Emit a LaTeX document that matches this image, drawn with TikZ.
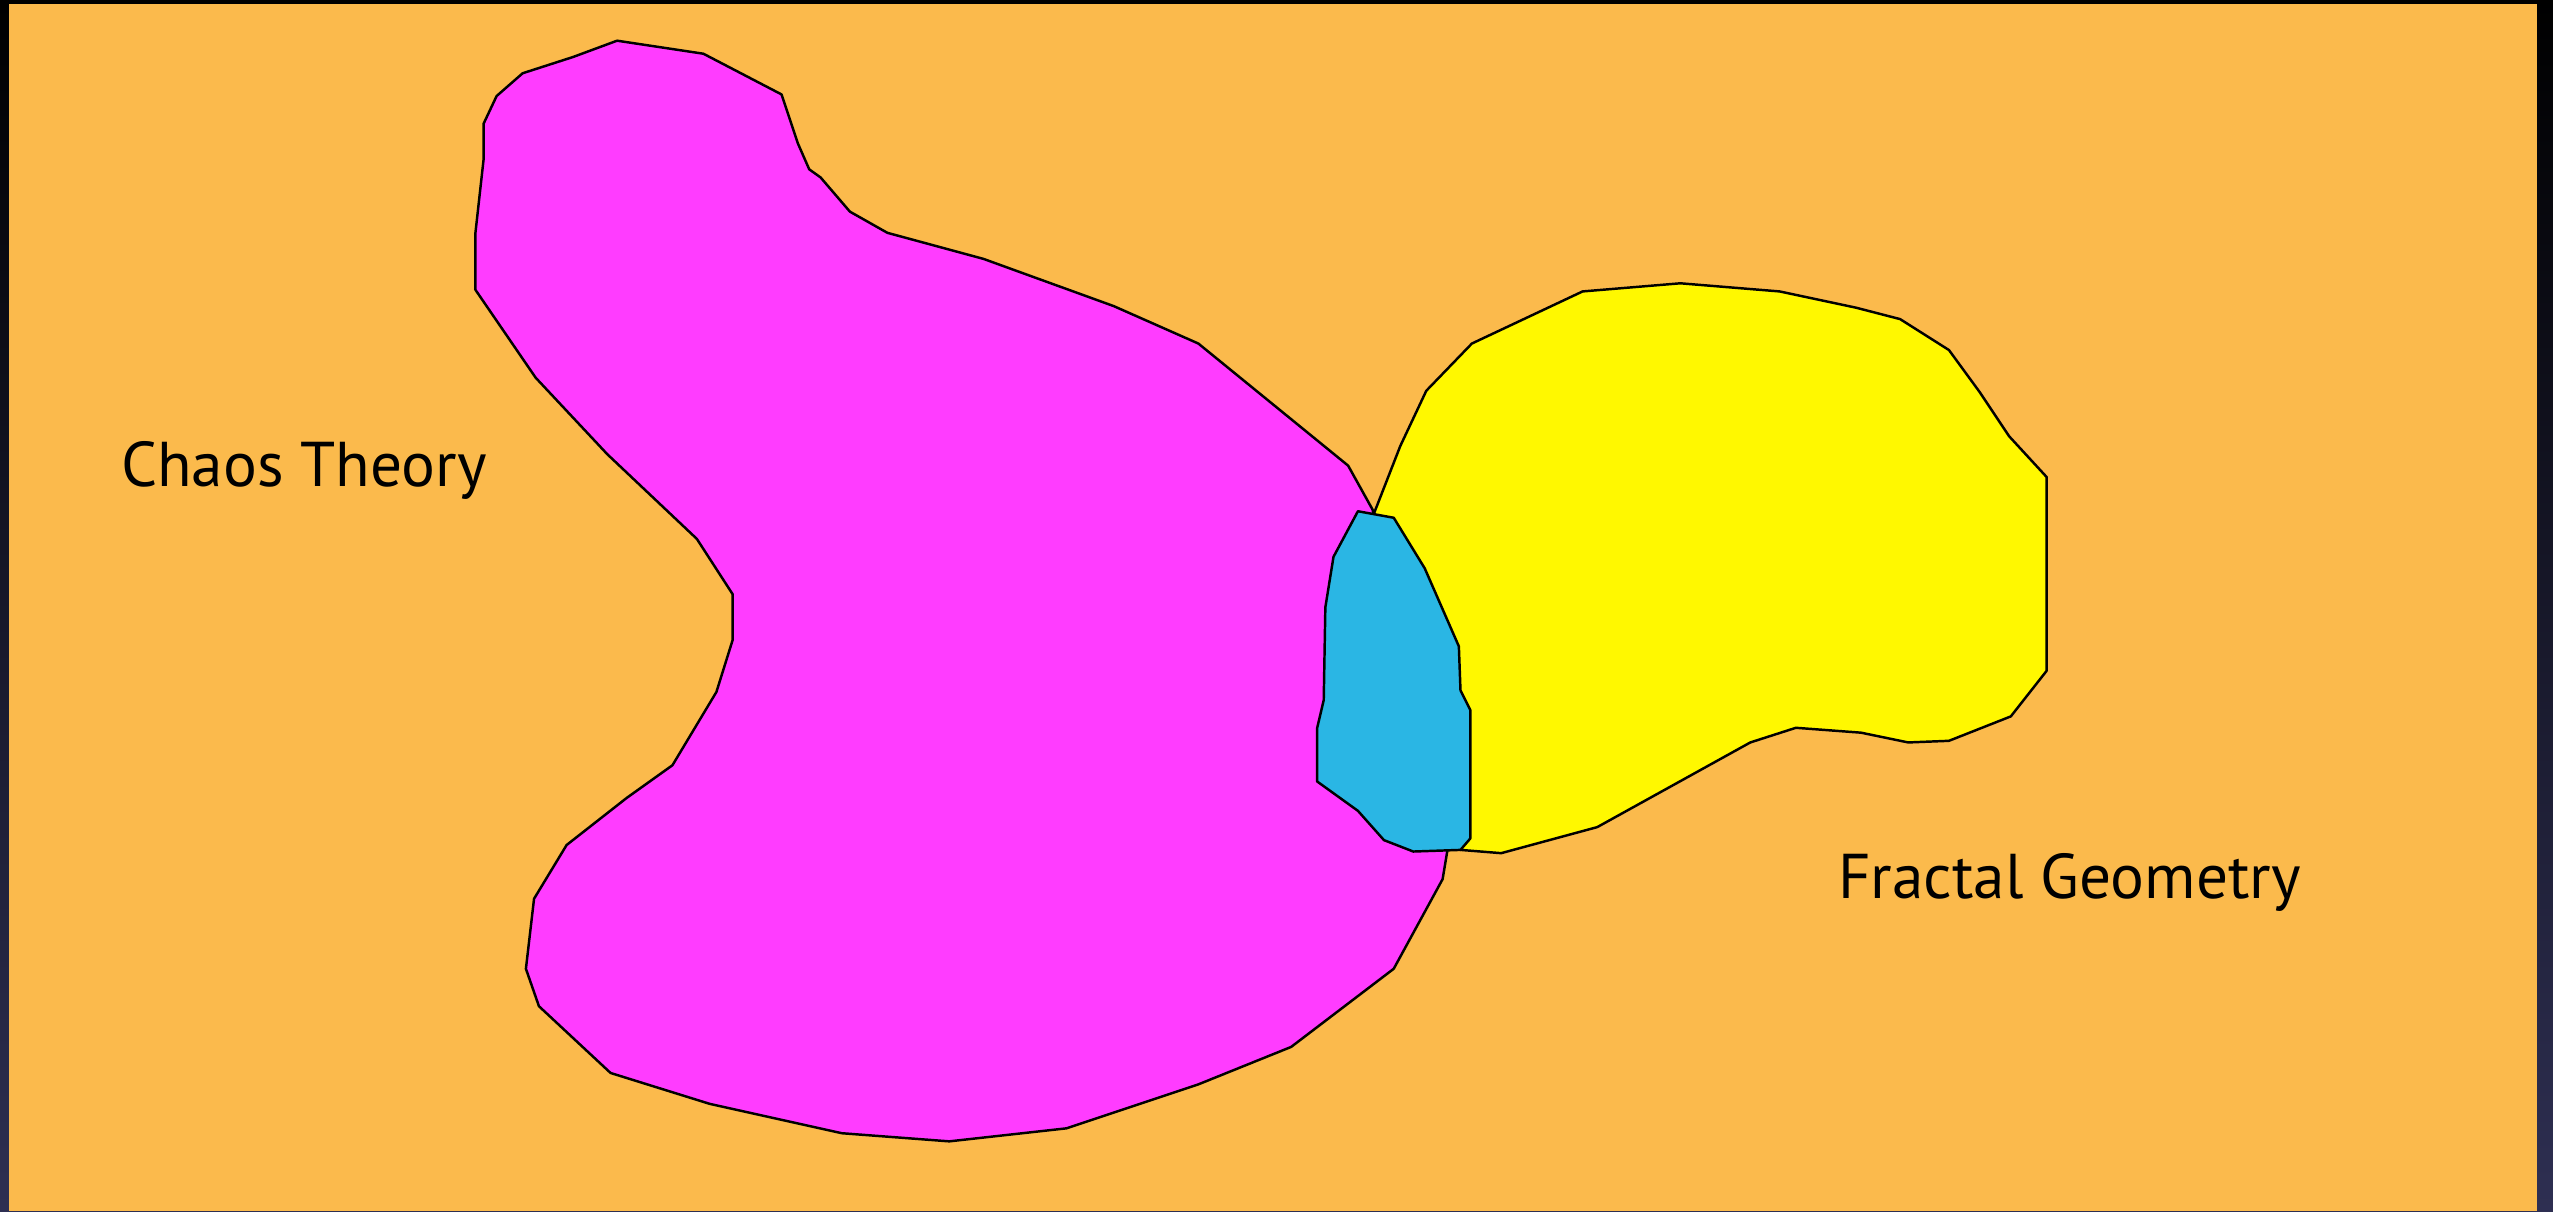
\documentclass[tikz,border=0pt]{standalone}
\usepackage{fontspec}
\setmainfont{PT Sans}
\definecolor{backorange}{RGB}{251,186,76}
\definecolor{blobpink}{RGB}{255,60,255}
\definecolor{blobyellow}{RGB}{255,248,0}
\definecolor{blobcyan}{RGB}{42,182,228}
\definecolor{framenavy}{RGB}{46,47,82}
\tikzset{
  blob/.style={draw=black, line width=0.7pt, line join=round},
  label/.style={anchor=base, font=\fontsize{18}{21}\selectfont, inner sep=0pt}
}
\begin{document}
\begin{tikzpicture}[x=0.016282cm, y=-0.016282cm]
\useasboundingbox (0,0) rectangle (1568,744);
\shade[top color=black, bottom color=framenavy] (0,0) rectangle (1568,744);
\fill[backorange] (5.5,2.5) rectangle (1558,744);
% chaos theory
\filldraw[blob, fill=blobpink] (379,25) -- (432,33) -- (480,58) -- (490,88) -- (497,104)
  -- (504,109) -- (522,130) -- (545,143) -- (604,159) -- (684,188) -- (736,211)
  -- (828,286) -- (843,313) -- (889,522) -- (886,540) -- (856,595) -- (793,643)
  -- (736,666) -- (655,693) -- (583,701) -- (517,696) -- (436,678) -- (375,659)
  -- (331,618) -- (323,595) -- (328,552) -- (348,519) -- (385,490) -- (413,470)
  -- (440,425) -- (450,393) -- (450,365) -- (428,331) -- (373,279) -- (329,232)
  -- (292,178) -- (292,143) -- (297,98) -- (297,76) -- (305,59) -- (321,45)
  -- (352,35) -- cycle;
% fractal geometry
\filldraw[blob, fill=blobyellow] (844,315) -- (860,274) -- (876,240) -- (904,211)
  -- (972,179) -- (1032,174) -- (1093,179) -- (1140,189) -- (1167,196)
  -- (1197,215) -- (1216,241) -- (1234,268) -- (1257,293) -- (1257,412)
  -- (1235,440) -- (1197,455) -- (1172,456) -- (1143,450) -- (1103,447)
  -- (1075,456) -- (981,508) -- (922,524) -- (897,522) -- cycle;
% overlap
\filldraw[blob, fill=blobcyan] (834,314) -- (856,318) -- (875,349) -- (896,397)
  -- (897,424) -- (903,436) -- (903,515) -- (897,522) -- (868,523) -- (850,516)
  -- (834,498) -- (809,480) -- (809,447) -- (813,430) -- (814,373) -- (819,342)
  -- cycle;
\node[label] (chaos) at (186.7,299) {Chaos Theory};
\node[label] (fractal) at (1271,551.6) {Fractal Geometry};
\end{tikzpicture}
\end{document}
